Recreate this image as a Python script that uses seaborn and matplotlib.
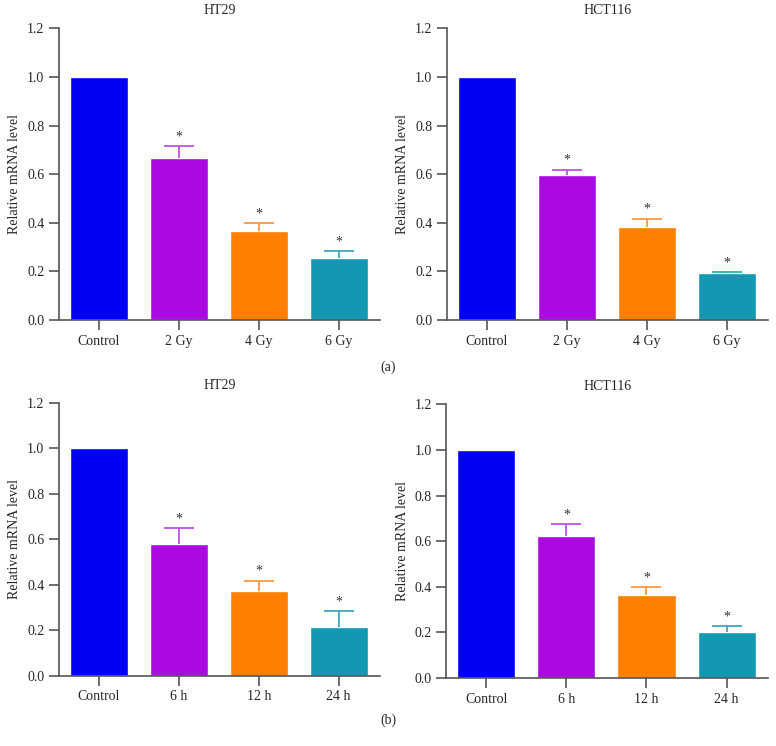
import numpy as np
import pandas as pd
import matplotlib
matplotlib.use('Agg')
import matplotlib.pyplot as plt
import seaborn as sns

sns.set_style('ticks')
plt.rcParams['font.family'] = ['Liberation Serif', 'DejaVu Serif']

# Data
dose_labels = ['Control', '2 Gy', '4 Gy', '6 Gy']
time_labels = ['Control', '6 h', '12 h', '24 h']

ht29_dose = [1.0, 0.665, 0.365, 0.256]
ht29_dose_err = [0.0, 0.05, 0.033, 0.026]
hct116_dose = [1.0, 0.595, 0.383, 0.192]
hct116_dose_err = [0.0, 0.024, 0.033, 0.004]

ht29_time = [1.0, 0.579, 0.372, 0.215]
ht29_time_err = [0.0, 0.069, 0.046, 0.071]
hct116_time = [1.0, 0.624, 0.363, 0.200]
hct116_time_err = [0.0, 0.051, 0.035, 0.028]

bar_colors = ['#0000f5', '#aa0ae0', '#ff7f00', '#1298b2']
err_colors = ['#0000f5', '#c050e8', '#ff9a40', '#3aaac0']
spine_color = '#555555'

panels = [
    ('HT29', dose_labels, ht29_dose, ht29_dose_err, [0.076, 0.571, 0.414, 0.391]),
    ('HCT116', dose_labels, hct116_dose, hct116_dose_err, [0.576, 0.571, 0.414, 0.391]),
    ('HT29', time_labels, ht29_time, ht29_time_err, [0.076, 0.094, 0.414, 0.366]),
    ('HCT116', time_labels, hct116_time, hct116_time_err, [0.575, 0.091, 0.415, 0.367]),
]

fig = plt.figure(figsize=(7.76, 7.46), dpi=100)

for title, labels, vals, errs, pos in panels:
    ax = fig.add_axes(pos)
    df = pd.DataFrame({'group': labels, 'value': vals})
    sns.barplot(data=df, x='group', y='value', hue='group', palette=bar_colors,
                order=labels, width=0.725, saturation=1, legend=False, ax=ax,
                errorbar=None)
    # upper-only error bars and significance stars
    for i in range(1, len(labels)):
        _, caps, _ = ax.errorbar(i, vals[i], yerr=[[0], [errs[i]]], fmt='none',
                                 ecolor=err_colors[i], elinewidth=1.3,
                                 capsize=10.5, capthick=1.3)
        caps[0].set_visible(False)
        ax.text(i, vals[i] + errs[i] + 0.012, '*', ha='center', va='bottom',
                fontsize=10, color='#333333')
    ax.set_xlim(-0.5, 3.52)
    ax.set_ylim(0, 1.2)
    ax.set_yticks(np.arange(0, 1.21, 0.2))
    ax.set_yticklabels(['{:.1f}'.format(t) for t in np.arange(0, 1.21, 0.2)])
    ax.set_xlabel('')
    ax.set_ylabel('Relative mRNA level', fontsize=10)
    ax.set_title(title, fontsize=10, pad=10)
    sns.despine(ax=ax)
    for side in ['left', 'bottom']:
        ax.spines[side].set_color(spine_color)
        ax.spines[side].set_linewidth(1.2)
    ax.tick_params(axis='y', length=7, width=1.2, color=spine_color, labelsize=10)
    ax.tick_params(axis='x', length=7, width=1.2, color=spine_color, labelsize=10)

fig.text(0.5, 0.508, '(a)', ha='center', va='center', fontsize=10)
fig.text(0.5, 0.035, '(b)', ha='center', va='center', fontsize=10)

fig.savefig('out.png', dpi=100)
